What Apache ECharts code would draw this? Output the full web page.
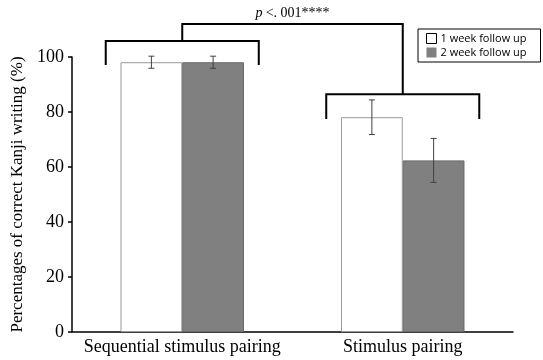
<!DOCTYPE html>
<html><head><meta charset="utf-8">
<script src="https://cdn.jsdelivr.net/npm/echarts@6/dist/echarts.min.js"></script>
<style>html,body{margin:0;padding:0;background:#fff}#c{width:543px;height:360px}</style>
</head><body><div id="c"></div>
<script>
var categories = ['Sequential stimulus pairing', 'Stimulus pairing'];
var seriesNames = ['1 week follow up', '2 week follow up'];
var week1 = [98.1, 78.1];
var week2 = [98.1, 62.4];
var week1Err = [2.2, 6.3];
var week2Err = [2.2, 8.0];
var yTicks = [0, 20, 40, 60, 80, 100];
// bracket levels (value units): [top of bracket, leg end]
var groupBracket = [[105.8, 97.1], [86.5, 77.5]];
var topBracketLevel = 112;
var sigText = 'p <. 001****';

var chart = echarts.init(document.getElementById('c'));
var serif = '"Liberation Serif","DejaVu Serif",serif';
var CAT_GAP = 0.44;

function errData(vals, errs, idx) {
  return vals.map(function (v, i) { return [i, v - errs[i], v + errs[i], idx]; });
}
function renderErr(params, api) {
  var ci = api.value(0), lo = api.value(1), hi = api.value(2), si = api.value(3);
  var bw = api.size([1, 0])[0];
  var barW = bw * (1 - CAT_GAP) / 2;
  var off = (si === 0 ? -1 : 1) * barW / 2;
  var pLo = api.coord([ci, lo]), pHi = api.coord([ci, hi]);
  var x = pLo[0] + off;
  var cap = 3;
  var st = { stroke: '#404040', lineWidth: 1 };
  return { type: 'group', children: [
    { type: 'line', shape: { x1: x, y1: pLo[1], x2: x, y2: pHi[1] }, style: st },
    { type: 'line', shape: { x1: x - cap, y1: pLo[1], x2: x + cap, y2: pLo[1] }, style: st },
    { type: 'line', shape: { x1: x - cap, y1: pHi[1], x2: x + cap, y2: pHi[1] }, style: st }
  ]};
}
function renderBrackets(params, api) {
  if (params.dataIndex !== 0) return null;
  var bw = api.size([1, 0])[0];
  var half = bw * 0.347;
  var st = { stroke: '#000', lineWidth: 2, fill: null };
  var children = [];
  var centers = [];
  for (var i = 0; i < groupBracket.length; i++) {
    var pTop = api.coord([i, groupBracket[i][0]]);
    var pLeg = api.coord([i, groupBracket[i][1]]);
    var cx = pTop[0];
    centers.push([cx, pTop[1]]);
    children.push({ type: 'polyline', shape: { points: [[cx - half, pLeg[1]], [cx - half, pTop[1]], [cx + half, pTop[1]], [cx + half, pLeg[1]]] }, style: st });
  }
  var yTop = api.coord([0, topBracketLevel])[1];
  children.push({ type: 'polyline', shape: { points: [[centers[0][0], centers[0][1]], [centers[0][0], yTop], [centers[1][0], yTop], [centers[1][0], centers[1][1]]] }, style: st });
  var mid = (centers[0][0] + centers[1][0]) / 2;
  children.push({ type: 'text', x: mid, y: yTop - 4, style: {
    text: '{i|p} {n|<. 001****}', align: 'center', verticalAlign: 'bottom',
    rich: { i: { fontFamily: serif, fontStyle: 'italic', fontSize: 14, fill: '#000' },
            n: { fontFamily: serif, fontSize: 14, fill: '#000' } } } });
  return { type: 'group', children: children };
}

chart.setOption({
  animation: false,
  backgroundColor: '#fff',
  grid: { left: 72, right: 30, top: 57, bottom: 28 },
  legend: {
    orient: 'vertical', left: 418, top: 29,
    padding: [4, 14, 4, 8], itemGap: 3, itemWidth: 10, itemHeight: 10,
    borderColor: '#000', borderWidth: 1, icon: 'rect',
    textStyle: { fontFamily: '"Open Sans","Liberation Sans",sans-serif', fontSize: 11, color: '#000', padding: [0, 0, 0, -1] },
    data: [
      { name: seriesNames[0], itemStyle: { color: '#fff', borderColor: '#000', borderWidth: 1 } },
      { name: seriesNames[1], itemStyle: { color: '#808080', borderColor: '#808080', borderWidth: 0 } }
    ]
  },
  xAxis: {
    type: 'category', data: categories,
    axisLine: { lineStyle: { color: '#000', width: 1.5 } },
    axisTick: { show: false },
    axisLabel: { interval: 0, fontFamily: serif, fontSize: 18, color: '#000', margin: 6 }
  },
  yAxis: {
    type: 'value', min: 0, max: 100, interval: 20,
    name: 'Percentages of correct Kanji writing (%)', nameLocation: 'middle', nameGap: 44,
    nameTextStyle: { fontFamily: serif, fontSize: 17, color: '#000' },
    axisLine: { show: true, lineStyle: { color: '#000', width: 1.5 } },
    axisTick: { show: true, length: 4, lineStyle: { color: '#000', width: 1.5 } },
    splitLine: { show: false },
    axisLabel: { fontFamily: serif, fontSize: 18, color: '#000', margin: 8,
      formatter: function (v) { return yTicks.indexOf(v) >= 0 ? String(v) : ''; } }
  },
  series: [
    { name: seriesNames[0], type: 'bar', data: week1, barGap: '0%', barCategoryGap: (CAT_GAP * 100) + '%',
      itemStyle: { color: '#fff', borderColor: '#999', borderWidth: 1 } },
    { name: seriesNames[1], type: 'bar', data: week2, barGap: '0%', barCategoryGap: (CAT_GAP * 100) + '%',
      itemStyle: { color: '#808080', borderColor: '#6a6a6a', borderWidth: 1 } },
    { type: 'custom', data: errData(week1, week1Err, 0), renderItem: renderErr, z: 5, silent: true },
    { type: 'custom', data: errData(week2, week2Err, 1), renderItem: renderErr, z: 5, silent: true },
    { type: 'custom', data: [[0, 0]], renderItem: renderBrackets, clip: false, z: 6, silent: true }
  ]
});
</script></body></html>
